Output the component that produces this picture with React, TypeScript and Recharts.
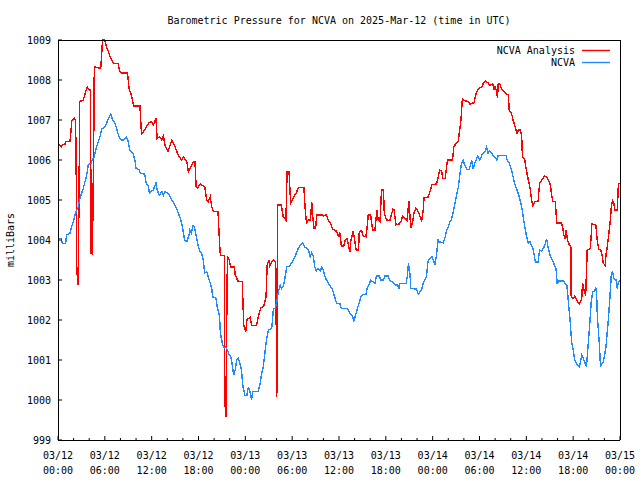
import { Line, LineChart, XAxis, YAxis } from "recharts";

// NCVA analysis (red) and NCVA station (blue): [hours since 03/12 00:00 UTC, mb]
const analysis: [number, number][] = [
  [0.0, 1006.4], [0.4, 1006.33], [0.55, 1006.38], [0.9, 1006.4], [1.0, 1006.46], [1.54, 1006.46], [1.67, 1006.73],
  [1.75, 1006.98], [2.1, 1007.04], [2.26, 1007.0], [2.35, 1005.29], [2.4, 1003.37], [2.48, 1003.04], [2.6, 1002.87],
  [2.69, 1005.12], [2.78, 1007.46], [3.24, 1007.5], [3.6, 1007.75], [3.76, 1007.82], [4.0, 1007.75], [4.18, 1007.75],
  [4.23, 1003.65], [4.33, 1005.5], [4.4, 1003.62], [4.55, 1005.7], [4.65, 1008.33], [5.47, 1008.29], [5.6, 1008.67],
  [5.7, 1009.0], [6.0, 1009.0], [6.2, 1008.83], [6.45, 1008.71], [6.66, 1008.58], [7.1, 1008.42], [7.7, 1008.42],
  [7.9, 1008.21], [8.15, 1008.17], [8.4, 1008.18], [8.9, 1008.18], [9.1, 1007.79], [9.4, 1007.62], [9.7, 1007.35],
  [10.5, 1007.35], [10.7, 1006.65], [11.1, 1006.75], [11.6, 1006.92], [12.0, 1006.96], [12.2, 1006.87], [12.55, 1007.04],
  [12.7, 1006.54], [13.05, 1006.58], [13.3, 1006.5], [13.5, 1006.6], [13.7, 1006.37], [14.1, 1006.21], [14.6, 1006.5],
  [15.0, 1006.33], [15.4, 1006.12], [15.85, 1006.0], [16.05, 1006.08], [16.5, 1005.96], [16.7, 1005.71], [17.1, 1005.87],
  [17.4, 1005.96], [17.55, 1005.96], [17.7, 1005.33], [17.85, 1005.29], [18.2, 1005.4], [18.8, 1005.33], [19.05, 1005.0],
  [19.25, 1004.96], [19.5, 1005.08], [19.7, 1004.83], [19.9, 1004.72], [20.5, 1004.71], [20.7, 1003.92], [20.8, 1003.62],
  [21.3, 1003.62], [21.35, 1000.08], [21.5, 999.58], [21.7, 1003.58], [21.95, 1003.5], [22.1, 1003.33], [22.6, 1003.33],
  [22.7, 1003.12], [23.1, 1002.96], [23.6, 1002.96], [23.7, 1002.42], [23.8, 1001.87], [24.05, 1001.71], [24.2, 1002.0],
  [24.6, 1002.07], [24.8, 1001.87], [25.45, 1001.87], [25.65, 1002.08], [25.95, 1002.29], [26.4, 1002.37], [26.65, 1002.58],
  [26.8, 1003.37], [27.0, 1003.5], [27.15, 1003.35], [27.4, 1003.46], [27.6, 1003.5], [27.9, 1003.43], [27.95, 1001.9],
  [28.0, 1001.75], [28.03, 1000.08], [28.1, 1002.0], [28.15, 1004.88], [28.6, 1004.88], [28.85, 1004.58], [29.2, 1004.5],
  [29.35, 1005.71], [29.6, 1005.71], [29.8, 1004.92], [30.15, 1005.05], [30.6, 1005.21], [30.8, 1005.32], [31.5, 1005.32],
  [31.7, 1004.67], [31.85, 1004.43], [32.1, 1004.5], [32.35, 1004.5], [32.5, 1004.96], [32.6, 1004.67], [32.8, 1004.29],
  [33.0, 1004.29], [33.15, 1004.63], [33.8, 1004.63], [34.0, 1004.6], [34.4, 1004.63], [34.6, 1004.5], [34.9, 1004.42],
  [35.2, 1004.27], [35.6, 1004.23], [35.8, 1004.17], [35.9, 1004.1], [36.1, 1004.18], [36.3, 1003.85], [36.6, 1003.85],
  [36.8, 1004.0], [37.0, 1004.04], [37.2, 1003.88], [37.4, 1003.71], [37.5, 1003.96], [37.8, 1004.21], [37.95, 1004.08],
  [38.2, 1003.75], [38.5, 1003.75], [38.6, 1004.21], [38.9, 1004.23], [39.1, 1004.1], [39.45, 1004.08], [39.6, 1004.32],
  [39.75, 1004.63], [40.05, 1004.63], [40.3, 1004.25], [40.6, 1004.25], [40.75, 1004.54], [40.9, 1004.75], [41.0, 1004.5],
  [41.25, 1004.46], [41.45, 1005.25], [41.7, 1005.25], [41.8, 1004.67], [42.1, 1004.5], [42.5, 1004.48], [42.9, 1004.77],
  [43.05, 1004.75], [43.3, 1004.38], [43.7, 1004.4], [44.0, 1004.48], [44.15, 1004.6], [44.45, 1004.54], [44.7, 1004.48],
  [44.8, 1004.65], [44.95, 1004.98], [45.2, 1004.29], [45.45, 1004.46], [45.6, 1004.67], [45.85, 1004.79], [46.15, 1004.71],
  [46.4, 1004.58], [46.6, 1004.48], [46.8, 1004.77], [46.9, 1005.07], [47.4, 1005.07], [47.65, 1005.2], [47.9, 1005.38],
  [48.5, 1005.4], [48.7, 1005.57], [48.9, 1005.75], [49.15, 1005.72], [49.3, 1005.54], [49.6, 1005.54], [49.7, 1005.71],
  [49.9, 1006.0], [50.55, 1006.0], [50.7, 1006.32], [51.0, 1006.42], [51.3, 1006.46], [51.4, 1006.67], [51.6, 1006.96],
  [51.7, 1007.21], [51.8, 1007.52], [52.1, 1007.48], [52.6, 1007.46], [52.8, 1007.38], [53.0, 1007.42], [53.3, 1007.43],
  [53.5, 1007.62], [53.8, 1007.77], [54.3, 1007.83], [54.5, 1007.92], [54.8, 1007.97], [55.1, 1007.93], [55.3, 1007.87],
  [55.7, 1007.9], [55.9, 1007.75], [56.0, 1007.83], [56.2, 1007.71], [56.3, 1007.54], [56.4, 1007.9], [56.6, 1007.9],
  [56.8, 1007.79], [57.1, 1007.71], [57.4, 1007.67], [57.7, 1007.62], [57.8, 1007.25], [58.1, 1007.17], [58.3, 1007.0],
  [58.5, 1006.87], [58.8, 1006.67], [59.0, 1006.75], [59.2, 1006.75], [59.4, 1006.62], [59.5, 1006.08], [59.8, 1006.0],
  [60.0, 1005.75], [60.25, 1005.5], [60.5, 1005.27], [60.7, 1004.96], [60.85, 1004.86], [61.1, 1004.96], [61.5, 1004.96],
  [61.7, 1005.42], [62.0, 1005.5], [62.3, 1005.6], [62.6, 1005.58], [62.9, 1005.46], [63.1, 1005.37], [63.2, 1005.17],
  [63.4, 1004.96], [63.7, 1004.96], [63.8, 1004.71], [63.9, 1004.43], [64.5, 1004.43], [64.65, 1004.32], [64.8, 1004.12],
  [64.95, 1004.04], [65.1, 1004.25], [65.25, 1004.02], [65.5, 1003.88], [65.7, 1003.83], [65.75, 1002.58], [66.0, 1002.54],
  [66.2, 1002.6], [66.5, 1002.48], [66.8, 1002.4], [67.1, 1002.54], [67.2, 1002.93], [67.4, 1002.75], [67.6, 1002.6],
  [67.8, 1003.75], [68.2, 1003.79], [68.4, 1004.4], [68.9, 1004.38], [69.1, 1003.96], [69.3, 1003.77], [69.5, 1003.77],
  [69.7, 1003.62], [69.85, 1003.42], [70.1, 1003.37], [70.2, 1003.62], [70.4, 1003.88], [70.6, 1004.21], [70.8, 1004.58],
  [70.9, 1004.88], [71.05, 1004.98], [71.2, 1004.92], [71.35, 1004.75], [71.65, 1004.75], [71.8, 1005.42], [72.0, 1005.42],
];

const station: [number, number][] = [
  [0.0, 1004.04], [0.38, 1004.04], [0.55, 1003.92], [0.98, 1003.92], [1.1, 1004.12], [1.54, 1004.17], [1.75, 1004.33],
  [1.96, 1004.46], [2.18, 1004.62], [2.4, 1004.75], [2.6, 1004.83], [2.82, 1005.04], [3.03, 1005.17], [3.24, 1005.29],
  [3.46, 1005.46], [3.67, 1005.62], [3.88, 1005.88], [4.23, 1005.92], [4.4, 1006.0], [4.65, 1006.08], [4.83, 1006.25],
  [5.08, 1006.42], [5.38, 1006.58], [5.6, 1006.77], [6.0, 1006.83], [6.3, 1006.96], [6.66, 1007.12], [6.75, 1007.15],
  [7.0, 1007.0], [7.3, 1006.92], [7.5, 1006.79], [7.8, 1006.58], [8.15, 1006.5], [8.4, 1006.5], [8.75, 1006.57],
  [9.0, 1006.46], [9.2, 1006.25], [9.6, 1006.17], [9.85, 1006.0], [10.0, 1005.79], [10.4, 1005.75], [10.55, 1005.67],
  [11.1, 1005.65], [11.3, 1005.42], [11.6, 1005.33], [11.7, 1005.17], [12.2, 1005.25], [12.55, 1005.42], [12.7, 1005.25],
  [13.0, 1005.12], [13.3, 1005.21], [13.5, 1005.12], [13.7, 1005.21], [14.1, 1005.17], [14.25, 1005.12], [14.55, 1005.0],
  [14.85, 1004.92], [15.2, 1004.79], [15.4, 1004.67], [15.7, 1004.54], [16.0, 1004.27], [16.2, 1004.0], [16.5, 1003.96],
  [16.75, 1004.1], [16.9, 1004.25], [17.1, 1004.17], [17.25, 1004.35], [17.4, 1004.35], [17.55, 1004.25], [17.8, 1004.0],
  [18.0, 1003.83], [18.2, 1003.71], [18.4, 1003.67], [18.6, 1003.5], [18.8, 1003.17], [19.05, 1003.21], [19.25, 1003.08],
  [19.5, 1002.92], [19.7, 1002.79], [19.8, 1002.58], [20.25, 1002.54], [20.4, 1002.33], [20.7, 1002.08], [20.8, 1001.67],
  [21.1, 1001.38], [21.3, 1001.29], [21.5, 1001.33], [21.7, 1001.25], [21.95, 1001.12], [22.1, 1001.12], [22.25, 1000.96],
  [22.5, 1000.62], [22.7, 1000.75], [22.9, 1001.0], [23.1, 1001.04], [23.3, 1000.92], [23.5, 1000.75], [23.7, 1000.33],
  [23.95, 1000.12], [24.2, 1000.12], [24.4, 1000.33], [24.6, 1000.21], [24.8, 1000.0], [24.95, 1000.21], [25.65, 1000.21],
  [25.9, 1000.42], [26.1, 1000.67], [26.3, 1000.83], [26.5, 1001.17], [26.7, 1001.5], [26.95, 1001.75], [27.25, 1001.77],
  [27.4, 1001.83], [27.6, 1002.29], [27.8, 1002.29], [28.0, 1002.42], [28.2, 1002.67], [28.45, 1002.87], [28.65, 1002.79],
  [28.85, 1002.83], [29.1, 1003.08], [29.3, 1003.33], [29.7, 1003.35], [29.9, 1003.42], [30.15, 1003.5], [30.4, 1003.6],
  [30.6, 1003.71], [30.8, 1003.8], [31.0, 1003.85], [31.35, 1003.92], [31.6, 1003.83], [31.9, 1003.79], [32.1, 1003.75],
  [32.3, 1003.58], [32.5, 1003.68], [32.7, 1003.6], [32.9, 1003.33], [33.1, 1003.23], [33.35, 1003.29], [33.6, 1003.23],
  [33.8, 1003.33], [34.0, 1003.23], [34.2, 1003.08], [34.4, 1003.0], [34.75, 1002.88], [35.1, 1002.79], [35.3, 1002.67],
  [35.5, 1002.54], [35.7, 1002.42], [36.1, 1002.42], [36.3, 1002.29], [37.0, 1002.29], [37.2, 1002.25], [37.4, 1002.17],
  [37.75, 1002.08], [37.9, 1001.98], [38.2, 1002.17], [38.4, 1002.33], [38.6, 1002.42], [38.8, 1002.58], [38.9, 1002.62],
  [39.5, 1002.65], [39.6, 1002.79], [39.9, 1002.92], [40.1, 1003.0], [40.3, 1002.96], [40.6, 1002.92], [40.8, 1003.1],
  [41.2, 1003.1], [41.3, 1003.0], [41.7, 1003.0], [41.9, 1003.1], [42.3, 1003.1], [42.5, 1002.98], [42.95, 1002.94],
  [43.2, 1002.88], [43.5, 1002.88], [43.7, 1002.77], [43.8, 1002.92], [44.6, 1002.92], [44.75, 1003.08], [44.9, 1003.42],
  [45.1, 1003.12], [45.2, 1002.79], [45.95, 1002.77], [46.15, 1002.65], [46.4, 1002.71], [46.6, 1002.77], [46.8, 1002.92],
  [47.0, 1003.0], [47.2, 1003.08], [47.4, 1003.46], [47.65, 1003.54], [47.9, 1003.58], [48.1, 1003.5], [48.3, 1003.37],
  [48.5, 1003.65], [48.7, 1004.0], [48.9, 1003.95], [49.35, 1003.93], [49.6, 1004.08], [49.8, 1004.25], [50.0, 1004.33],
  [50.2, 1004.46], [50.4, 1004.5], [50.65, 1004.71], [50.9, 1004.96], [51.1, 1005.17], [51.3, 1005.33], [51.5, 1005.67],
  [51.7, 1005.92], [51.9, 1006.0], [52.1, 1005.87], [52.4, 1005.77], [52.7, 1005.77], [52.9, 1005.92], [53.0, 1006.0],
  [53.2, 1005.77], [53.4, 1005.92], [53.65, 1006.04], [53.8, 1006.1], [54.05, 1006.0], [54.3, 1006.12], [54.5, 1006.17],
  [54.7, 1006.21], [54.9, 1006.33], [55.1, 1006.17], [55.3, 1006.23], [55.5, 1006.18], [55.8, 1006.1], [56.0, 1006.07],
  [56.2, 1006.0], [56.4, 1006.12], [57.4, 1006.12], [57.5, 1006.02], [57.8, 1005.92], [58.1, 1005.75], [58.3, 1005.58],
  [58.5, 1005.42], [58.8, 1005.25], [59.1, 1005.08], [59.4, 1004.83], [59.6, 1004.58], [59.8, 1004.33], [60.0, 1004.12],
  [60.25, 1003.92], [60.45, 1003.96], [60.65, 1003.87], [60.9, 1003.75], [61.1, 1003.5], [61.2, 1003.45], [61.5, 1003.45],
  [61.7, 1003.75], [61.95, 1003.73], [62.2, 1003.8], [62.4, 1003.88], [62.6, 1004.03], [62.8, 1003.8], [63.1, 1003.58],
  [63.35, 1003.5], [63.5, 1003.42], [63.8, 1003.29], [63.95, 1002.92], [64.2, 1002.98], [64.75, 1002.98], [64.95, 1002.92],
  [65.2, 1002.87], [65.4, 1002.42], [65.6, 1002.0], [65.8, 1001.46], [66.0, 1001.25], [66.2, 1001.0], [66.4, 1000.92],
  [66.8, 1000.83], [67.1, 1001.12], [67.3, 1001.04], [67.45, 1000.96], [67.7, 1000.83], [67.9, 1001.33], [68.1, 1001.83],
  [68.3, 1002.42], [68.5, 1002.71], [68.7, 1002.71], [68.9, 1002.79], [69.0, 1002.67], [69.1, 1002.08], [69.35, 1001.42],
  [69.5, 1000.83], [69.7, 1000.92], [69.85, 1000.93], [70.2, 1001.33], [70.5, 1002.0], [70.7, 1002.54], [70.9, 1003.17],
  [71.05, 1003.21], [71.2, 1003.04], [71.5, 1003.0], [71.65, 1002.79], [71.8, 1002.96], [72.0, 1003.0],
];

const xTicks = Array.from({ length: 37 }, (_, i) => i * 2); // every 2h, labels every 6h
const xDates = ["03/12", "03/12", "03/12", "03/12", "03/13", "03/13", "03/13", "03/13", "03/14", "03/14", "03/14", "03/14", "03/15"];
const xTimes = ["00:00", "06:00", "12:00", "18:00", "00:00", "06:00", "12:00", "18:00", "00:00", "06:00", "12:00", "18:00", "00:00"];
const yTicks = [999, 1000, 1001, 1002, 1003, 1004, 1005, 1006, 1007, 1008, 1009];

const RED = "#ff0000";
const BLUE = "#1e8cff";
const FONT = "'DejaVu Sans Mono', monospace";

const toRows = (pts: [number, number][]) => pts.map(([h, v]) => ({ h, v }));

function BottomTick({ x, y, payload }: any) {
  const major = payload.value % 6 === 0;
  const i = payload.value / 6;
  return (
    <g>
      <line x1={x} y1={y} x2={x} y2={y - (major ? 4 : 2)} stroke="#000" />
      {major && (
        <text x={x} y={y + 19} textAnchor="middle" fontFamily={FONT} fontSize={10} fill="#000">
          <tspan x={x}>{xDates[i]}</tspan>
          <tspan x={x} dy={15}>{xTimes[i]}</tspan>
        </text>
      )}
    </g>
  );
}

function TopTick({ x, y, payload }: any) {
  const major = payload.value % 6 === 0;
  return <line x1={x} y1={y} x2={x} y2={y + (major ? 4 : 2)} stroke="#000" />;
}

function LeftTick({ x, y, payload }: any) {
  return (
    <g>
      <line x1={x} y1={y} x2={x + 4} y2={y} stroke="#000" />
      <text x={x - 7} y={y + 4} textAnchor="end" fontFamily={FONT} fontSize={10} fill="#000">
        {payload.value}
      </text>
    </g>
  );
}

function RightTick({ x, y }: any) {
  return <line x1={x} y1={y} x2={x - 4} y2={y} stroke="#000" />;
}

export default function App() {
  return (
    <div style={{ position: "absolute", left: 0, top: 0, width: 640, height: 480, background: "#fff" }}>
      <style>{`.recharts-line-curve, .recharts-cartesian-axis line { shape-rendering: crispEdges; }`}</style>
      <LineChart width={640} height={480} margin={{ top: 10, right: 0, bottom: 0, left: 0 }}>
        <XAxis xAxisId="b" type="number" dataKey="h" domain={[0, 72]} ticks={xTicks} interval={0}
          height={40} tickSize={0} tickMargin={0} tickLine={false} axisLine={{ stroke: "#000" }} tick={BottomTick} />
        <XAxis xAxisId="t" orientation="top" type="number" dataKey="h" domain={[0, 72]} ticks={xTicks} interval={0}
          height={30} tickSize={0} tickMargin={0} tickLine={false} axisLine={{ stroke: "#000" }} tick={TopTick} />
        <YAxis yAxisId="l" type="number" domain={[999, 1009]} ticks={yTicks} interval={0} width={58}
          tickSize={0} tickMargin={0} tickLine={false} axisLine={{ stroke: "#000" }} tick={LeftTick} />
        <YAxis yAxisId="r" orientation="right" type="number" domain={[999, 1009]} ticks={yTicks} interval={0} width={20}
          tickSize={0} tickMargin={0} tickLine={false} axisLine={{ stroke: "#000" }} tick={RightTick} />
        <Line xAxisId="b" yAxisId="l" data={toRows(analysis)} dataKey="v" type="linear" stroke={RED}
          strokeWidth={1.4} dot={false} isAnimationActive={false} />
        <Line xAxisId="b" yAxisId="l" data={toRows(station)} dataKey="v" type="linear" stroke={BLUE}
          strokeWidth={1.4} dot={false} isAnimationActive={false} />
      </LineChart>
      <svg width={640} height={480} style={{ position: "absolute", left: 0, top: 0, pointerEvents: "none" }}>
        <text x={339} y={24} textAnchor="middle" fontFamily={FONT} fontSize={10} fill="#000">
          Barometric Pressure for NCVA on 2025-Mar-12 (time in UTC)
        </text>
        <text x={14} y={240} textAnchor="middle" fontFamily={FONT} fontSize={10} fill="#000"
          transform="rotate(-90 14 240)">milliBars</text>
        <text x={575} y={54} textAnchor="end" fontFamily={FONT} fontSize={10} fill="#000">NCVA Analysis</text>
        <line x1={582} y1={50.5} x2={610} y2={50.5} stroke={RED} strokeWidth={1.4} />
        <text x={575} y={66} textAnchor="end" fontFamily={FONT} fontSize={10} fill="#000">NCVA</text>
        <line x1={582} y1={62.5} x2={610} y2={62.5} stroke={BLUE} strokeWidth={1.4} />
      </svg>
    </div>
  );
}
